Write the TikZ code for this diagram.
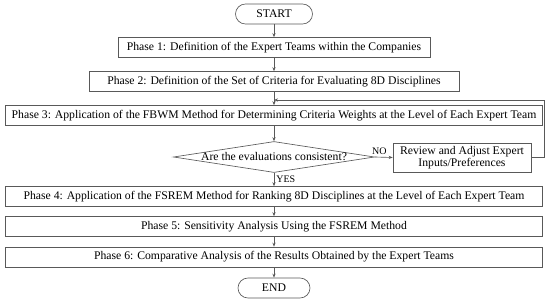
\documentclass[tikz,border=0pt]{standalone}
\usepackage{fontspec}
\setmainfont{Liberation Serif}
\usetikzlibrary{shapes.geometric,arrows.meta}
\newcommand\mainfs{\fontsize{11.7}{11.5}\selectfont}
\newcommand\lblfs{\fontsize{10}{12}\selectfont}
\definecolor{lc}{gray}{0.35}
\begin{document}
\begin{tikzpicture}[x=1pt,y=-1pt,
  phase/.style={draw=lc, line width=0.65pt, minimum height=20pt, inner sep=0pt, font=\mainfs, text=black},
  term/.style={phase, rounded corners=10pt},
  dia/.style={diamond, draw=lc, line width=0.65pt, minimum width=201pt, minimum height=31pt, inner sep=0pt},
  arr/.style={draw=lc, line width=0.65pt, -{Stealth[length=4pt,width=3.2pt]}},
  lbl/.style={font=\lblfs, inner sep=0pt, text=black}]
\useasboundingbox (0,0) rectangle (550,303);
\node[term, minimum width=77pt] (start) at (274,14) {START};
\node[phase, minimum width=312pt] (p1) at (274,47.5) {Phase 1: Definition of the Expert Teams within the Companies};
\node[phase, minimum width=370pt] (p2) at (274,81.5) {Phase 2: Definition of the Set of Criteria for Evaluating 8D Disciplines};
\node[phase, minimum width=537pt] (p3) at (274,115.5) {Phase 3: Application of the FBWM Method for Determining Criteria Weights at the Level of Each Expert Team};
\node[dia, label={[font=\mainfs, text=black]center:Are the evaluations consistent?}] (d) at (274,157) {};
\node[phase, minimum width=138pt, minimum height=29pt, align=center] (rev) at (462,157.5) {Review and Adjust Expert\\Inputs/Preferences};
\node[phase, minimum width=537pt] (p4) at (274,196.5) {Phase 4: Application of the FSREM Method for Ranking 8D Disciplines at the Level of Each Expert Team};
\node[phase, minimum width=537pt] (p5) at (274,226.5) {Phase 5: Sensitivity Analysis Using the FSREM Method};
\node[phase, minimum width=537pt] (p6) at (274,257) {Phase 6: Comparative Analysis of the Results Obtained by the Expert Teams};
\node[term, minimum width=72pt] (end) at (274,288) {END};
\coordinate (loopin) at (274,100);
\draw[arr] (start) -- (p1);
\draw[arr] (p1) -- (p2);
\draw[arr] (p2) -- (p3);
\draw[arr] (p3) -- (d);
\draw[arr] (d.east) -- node[lbl, above=2pt, pos=0.25] {NO} (rev.west);
\draw[arr] (d.south) -- node[lbl, right=2pt, pos=0.45] {YES} (p4.north);
\draw[arr] (rev.east) -- ++(13,0) |- (loopin);
\draw[arr] (p4) -- (p5);
\draw[arr] (p5) -- (p6);
\draw[arr] (p6) -- (end);
\end{tikzpicture}
\end{document}
